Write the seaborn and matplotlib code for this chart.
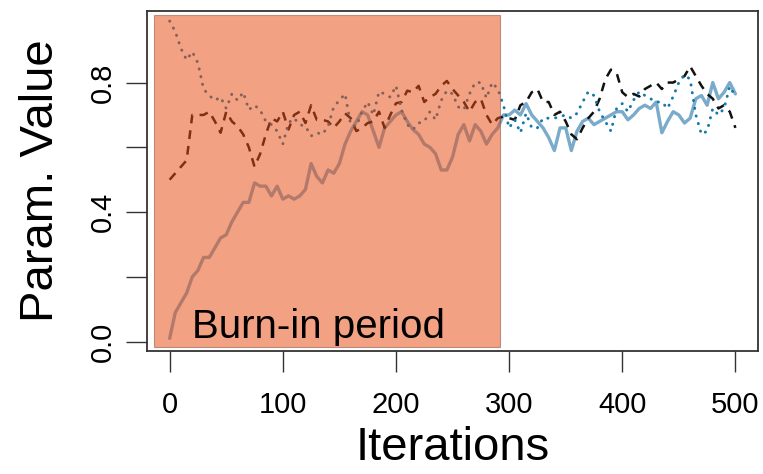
import numpy as np
import pandas as pd
import matplotlib
matplotlib.use("Agg")
import matplotlib.pyplot as plt
import seaborn as sns
from matplotlib.patches import Rectangle

# MCMC trace plot: three chains with the burn-in period shaded
iterations = np.arange(0, 501, 5)

chain_solid = [
    0.01, 0.09, 0.12, 0.15, 0.20, 0.22, 0.26, 0.26, 0.29, 0.32,
    0.33, 0.37, 0.40, 0.43, 0.43, 0.49, 0.48, 0.48, 0.45, 0.48,
    0.44, 0.45, 0.44, 0.45, 0.47, 0.55, 0.51, 0.49, 0.53, 0.52,
    0.55, 0.61, 0.65, 0.68, 0.71, 0.70, 0.65, 0.60, 0.66, 0.68,
    0.70, 0.71, 0.68, 0.655, 0.64, 0.61, 0.60, 0.58, 0.53, 0.53,
    0.57, 0.64, 0.67, 0.62, 0.67, 0.65, 0.61, 0.64, 0.66, 0.70,
    0.70, 0.715, 0.70, 0.735, 0.70, 0.68, 0.66, 0.63, 0.59, 0.66,
    0.66, 0.59, 0.65, 0.68, 0.69, 0.67, 0.68, 0.69, 0.70, 0.71,
    0.71, 0.685, 0.70, 0.72, 0.73, 0.72, 0.74, 0.645, 0.68, 0.71,
    0.70, 0.675, 0.69, 0.75, 0.76, 0.73, 0.80, 0.75, 0.77, 0.80,
    0.765,
]

chain_dashed = [
    0.50, 0.52, 0.54, 0.56, 0.70, 0.70, 0.70, 0.71, 0.68, 0.645,
    0.71, 0.68, 0.665, 0.64, 0.60, 0.54, 0.58, 0.64, 0.69, 0.68,
    0.71, 0.655, 0.70, 0.71, 0.675, 0.73, 0.685, 0.685, 0.68, 0.66,
    0.68, 0.705, 0.69, 0.65, 0.66, 0.675, 0.68, 0.71, 0.66, 0.70,
    0.736, 0.74, 0.775, 0.77, 0.79, 0.74, 0.755, 0.765, 0.79, 0.805,
    0.78, 0.76, 0.74, 0.71, 0.74, 0.75, 0.70, 0.67, 0.69, 0.695,
    0.69, 0.685, 0.73, 0.74, 0.77, 0.78, 0.74, 0.74, 0.70, 0.71,
    0.68, 0.64, 0.625, 0.66, 0.69, 0.71, 0.75, 0.81, 0.84, 0.83,
    0.77, 0.755, 0.765, 0.757, 0.78, 0.79, 0.80, 0.78, 0.80, 0.80,
    0.81, 0.82, 0.85, 0.82, 0.79, 0.765, 0.75, 0.72, 0.73, 0.71,
    0.66,
]

chain_dotted = [
    0.99, 0.957, 0.905, 0.87, 0.895, 0.86, 0.78, 0.76, 0.745, 0.755,
    0.72, 0.765, 0.745, 0.77, 0.716, 0.73, 0.715, 0.68, 0.67, 0.65,
    0.61, 0.675, 0.69, 0.67, 0.665, 0.635, 0.645, 0.64, 0.665, 0.725,
    0.745, 0.765, 0.67, 0.665, 0.71, 0.74, 0.70, 0.772, 0.765, 0.755,
    0.79, 0.715, 0.67, 0.655, 0.675, 0.68, 0.71, 0.685, 0.745, 0.775,
    0.765, 0.725, 0.716, 0.765, 0.80, 0.80, 0.752, 0.80, 0.78, 0.73,
    0.66, 0.685, 0.645, 0.705, 0.66, 0.66, 0.69, 0.69, 0.69, 0.695,
    0.70, 0.69, 0.705, 0.74, 0.772, 0.76, 0.71, 0.68, 0.65, 0.72,
    0.735, 0.71, 0.746, 0.772, 0.76, 0.75, 0.74, 0.74, 0.72, 0.757,
    0.80, 0.824, 0.81, 0.70, 0.64, 0.65, 0.72, 0.70, 0.72, 0.788,
    0.757,
]

burn_in_end = 292
x_ticks = [0, 100, 200, 300, 400, 500]
y_ticks = [0.0, 0.2, 0.4, 0.6, 0.8]
y_ticklabels = ["0.0", "", "0.4", "", "0.8"]

df = pd.DataFrame({"Iteration": iterations, "solid": chain_solid,
                   "dashed": chain_dashed, "dotted": chain_dotted})

sns.set_style("ticks")
plt.rcParams["font.family"] = ["Liberation Sans", "DejaVu Sans"]

fig = plt.figure(figsize=(7.63, 4.74), dpi=100)
ax = fig.add_axes([0.1927, 0.2595, 0.8008, 0.7173])

sns.lineplot(data=df, x="Iteration", y="solid", ax=ax, color="#7BABCB",
             linewidth=2.4, zorder=2)
sns.lineplot(data=df, x="Iteration", y="dashed", ax=ax, color="#111111",
             linewidth=1.8, zorder=3)
ax.lines[-1].set_dashes((3.5, 2.8))
sns.lineplot(data=df, x="Iteration", y="dotted", ax=ax, color="#1478AA",
             linewidth=2.1, zorder=3)
ax.lines[-1].set_dashes((0.1, 2.6))
ax.lines[-1].set_dash_capstyle("round")

# semi-transparent burn-in block drawn over the chains
ax.add_patch(Rectangle((-14, -0.016), burn_in_end + 14, 1.025,
                       facecolor="#E84C12", alpha=0.52,
                       edgecolor="#8a4a3a", linewidth=0.8, zorder=4))
ax.text(20, 0.012, "Burn-in period", fontsize=29, color="black",
        ha="left", va="baseline", zorder=5)

ax.set_xlim(-20, 520)
ax.set_ylim(-0.029, 1.021)
ax.set_xticks(x_ticks)
ax.set_yticks(y_ticks)
ax.set_yticklabels(y_ticklabels, rotation=90, va="center")
ax.tick_params(axis="both", labelsize=21, length=15, width=1.0,
               color="#333333", labelcolor="black", direction="out")
ax.tick_params(axis="y", pad=7)
ax.tick_params(axis="x", pad=14)
ax.set_xlabel("Iterations", fontsize=34, labelpad=5, color="black")
ax.set_ylabel("Param. Value", fontsize=34, labelpad=18, color="black")
for s in ax.spines.values():
    s.set_visible(True)
    s.set_linewidth(1.3)
    s.set_color("#333333")

fig.savefig("out.png", dpi=100)
